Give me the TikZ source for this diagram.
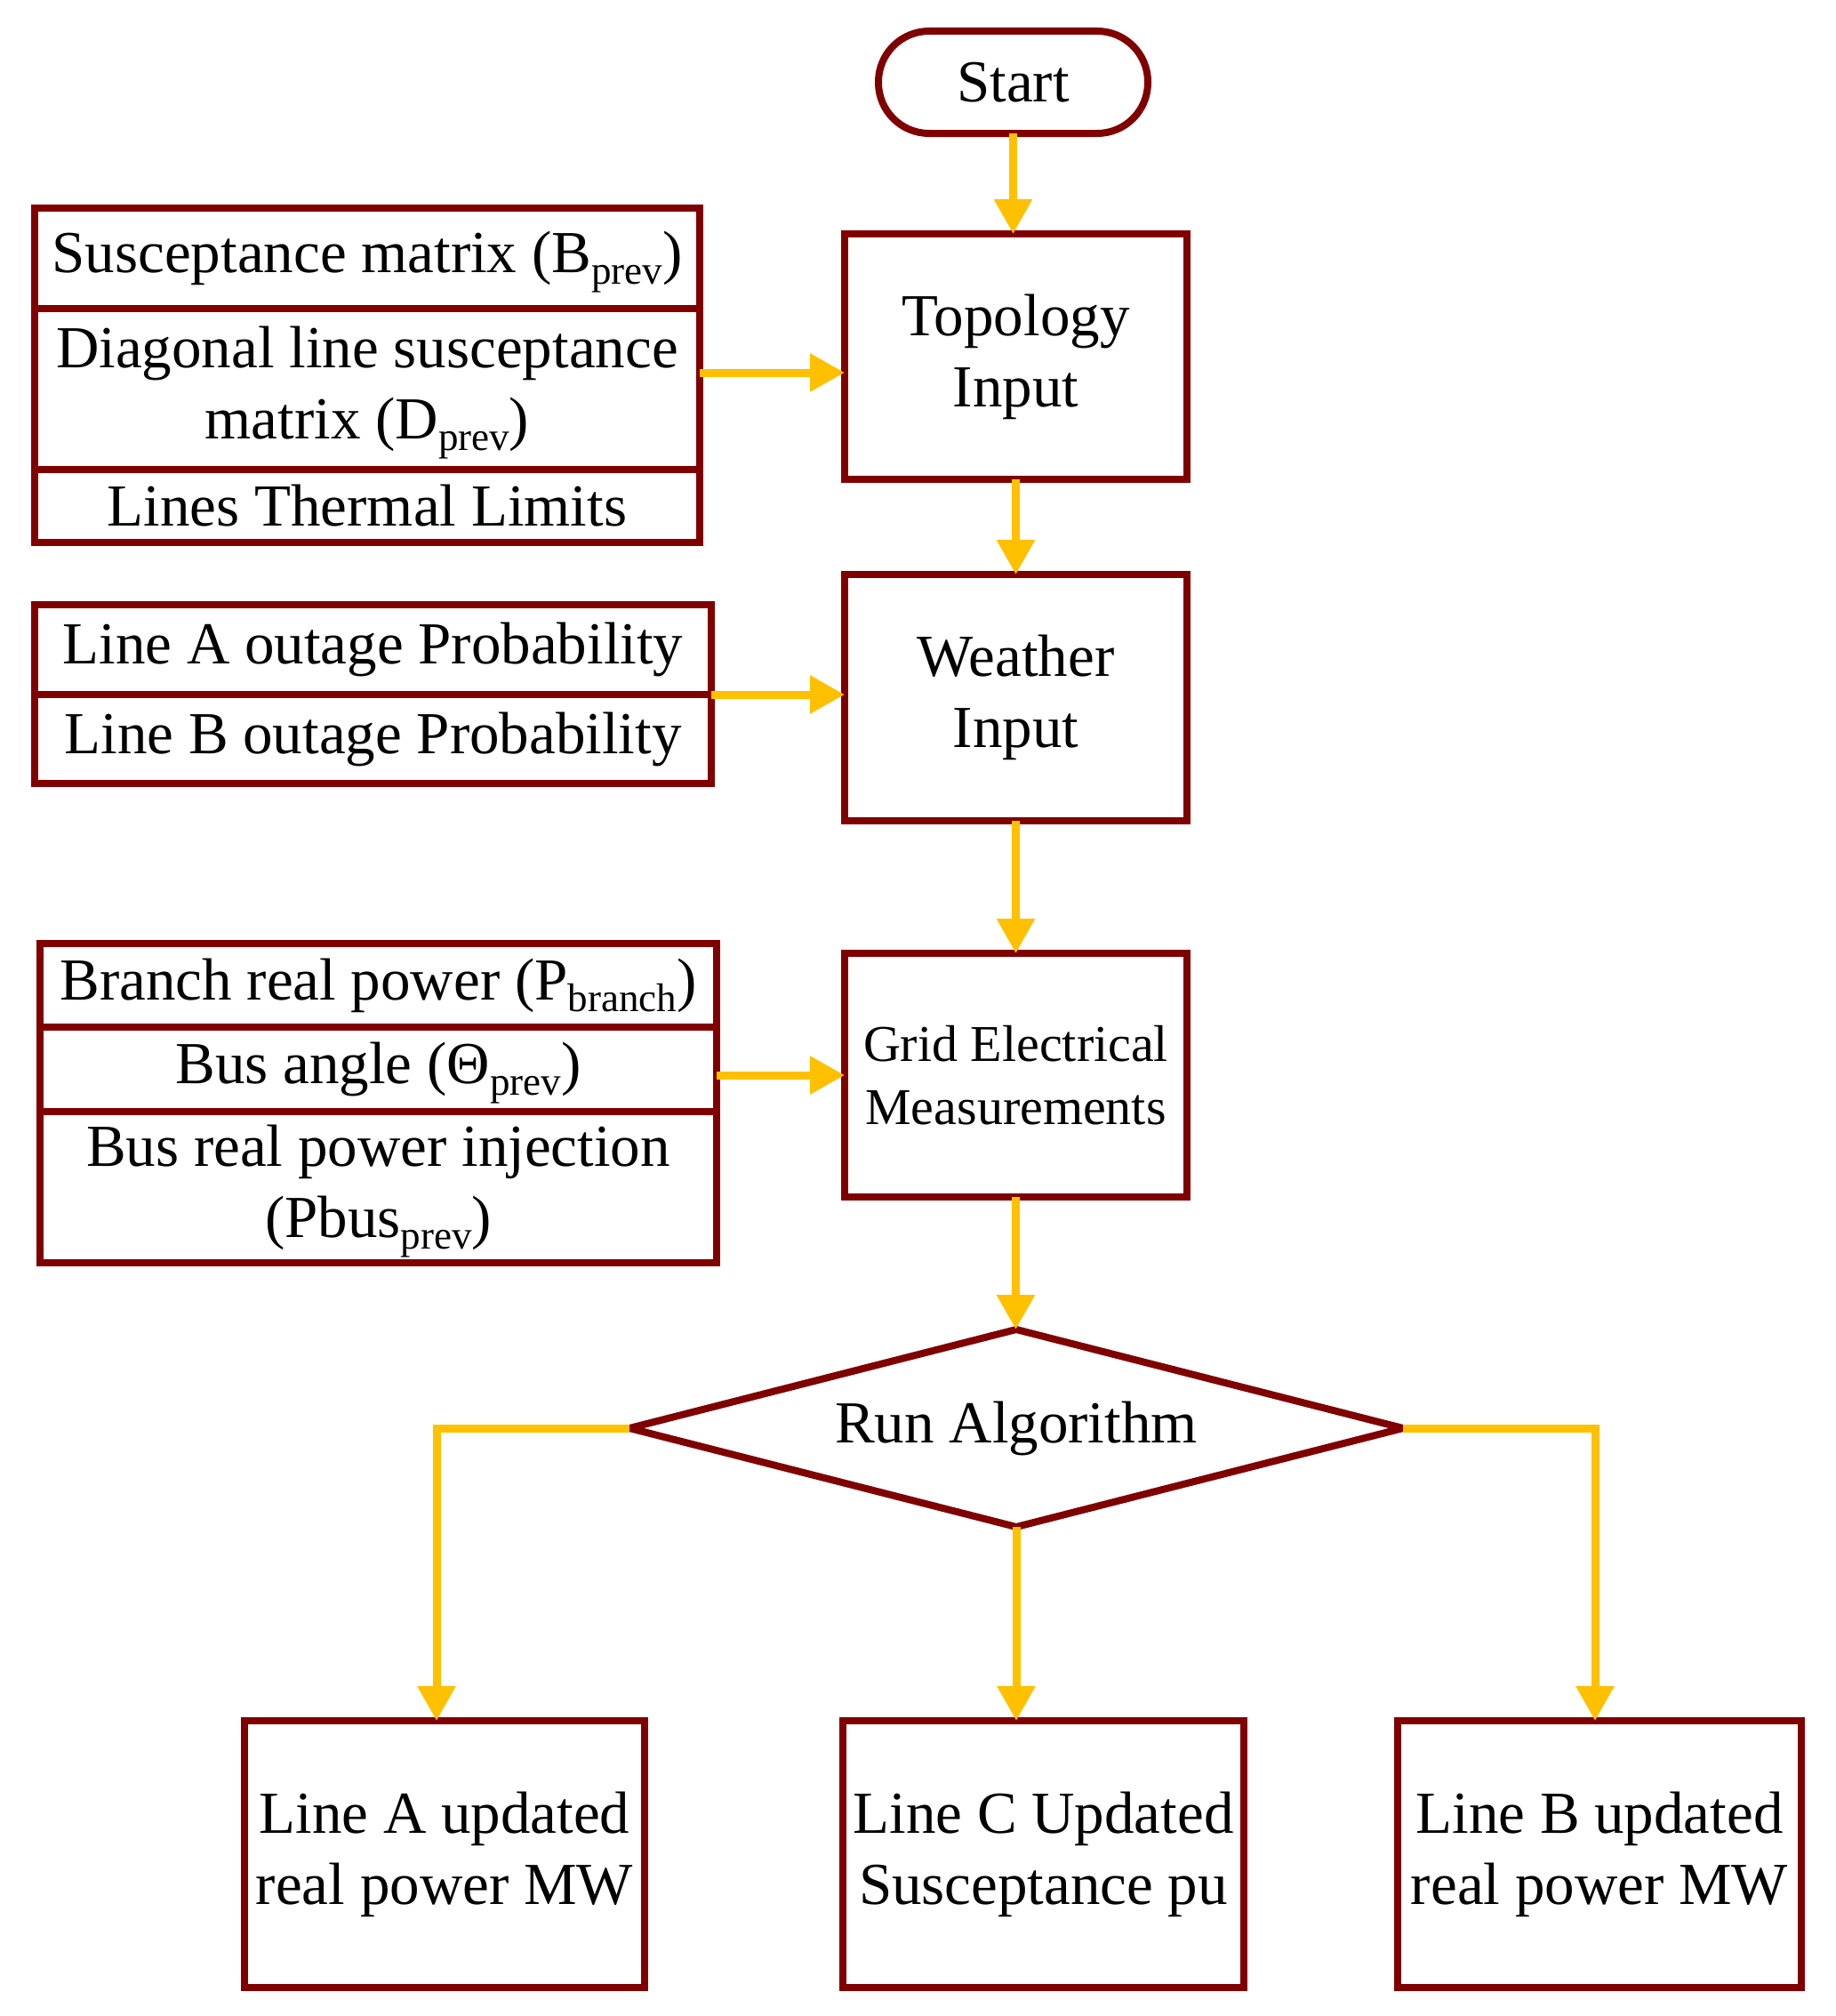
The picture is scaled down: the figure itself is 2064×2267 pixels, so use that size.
\documentclass[tikz,border=0pt]{standalone}
\usepackage{fontspec}
\setmainfont{Liberation Serif}
\usetikzlibrary{arrows.meta}
\definecolor{boxred}{RGB}{128,0,0}
\definecolor{arrgold}{RGB}{255,192,0}
\newcommand\lowsub[1]{\raisebox{-13pt}[0pt][0pt]{\fontsize{45}{45}\selectfont #1}}
\tikzset{
  box/.style={draw=boxred, line width=8pt, inner sep=0pt, outer sep=0pt, align=center,
    font=\fontsize{67}{80}\selectfont, text=black},
  decision/.style={inner sep=0pt, outer sep=0pt, align=center,
    font=\fontsize{67}{80}\selectfont, text=black},
  decisionline/.style={draw=boxred, line width=8pt, line join=miter},
  arr/.style={draw=arrgold, line width=9pt, -{Triangle[length=39pt,width=41pt]}}
}
\begin{document}
\begin{tikzpicture}[x=1pt,y=-1pt]
\useasboundingbox (0,0) rectangle (2064,2267);
% main column
\node[box, rounded corners=57pt, minimum width=303pt, minimum height=115pt] (start) at (1139.5,92.5) {Start};
\node[box, minimum width=385pt, minimum height=276pt] (topo) at (1142.5,401) {Topology\\Input};
\node[box, minimum width=385pt, minimum height=277pt] (weather) at (1142.5,784.5) {Weather\\Input};
\node[box, minimum width=385pt, minimum height=274pt, font=\fontsize{58}{71}\selectfont] (grid) at (1142.5,1209) {Grid Electrical\\Measurements};
\node[decision, minimum width=870pt, minimum height=222pt] (dia) at (1143,1606) {Run Algorithm};
\draw[decisionline] (dia.north) -- (dia.east) -- (dia.south) -- (dia.west) -- cycle;
% outputs
\node[box, minimum width=450pt, minimum height=300pt] (boxA) at (500,2085) {Line A updated\\real power MW};
\node[box, minimum width=451pt, minimum height=300pt] (boxC) at (1173.5,2085) {Line C Updated\\Susceptance pu};
\node[box, minimum width=454pt, minimum height=300pt] (boxB) at (1799,2085) {Line B updated\\real power MW};
% group 1
\node[box, minimum width=748pt, minimum height=113pt] (g1a) at (413,290.5) {Susceptance matrix (B\lowsub{prev})};
\node[box, minimum width=748pt, minimum height=181pt] (g1b) at (413,437.5) {Diagonal line susceptance\\matrix (D\lowsub{prev})};
\node[box, minimum width=748pt, minimum height=82pt] (g1c) at (413,569) {Lines Thermal Limits};
% group 2
\node[box, minimum width=761pt, minimum height=101pt] (g2a) at (419.5,730.5) {Line A outage Probability};
\node[box, minimum width=761pt, minimum height=100pt] (g2b) at (419.5,831) {Line B outage Probability};
% group 3
\node[box, minimum width=761pt, minimum height=94pt] (g3a) at (425.5,1108) {Branch real power (P\lowsub{branch})};
\node[box, minimum width=761pt, minimum height=95pt] (g3b) at (425.5,1202.5) {Bus angle (Θ\lowsub{prev})};
\node[box, minimum width=761pt, minimum height=170pt] (g3c) at (425.5,1335) {Bus real power injection\\(Pbus\lowsub{prev})};
% connectors
\draw[arr] (start.south) -- (start.south |- topo.north);
\draw[arr] (topo.south) -- (weather.north);
\draw[arr] (weather.south) -- (grid.north);
\draw[arr] (grid.south) -- (grid.south |- dia.north);
\draw[arr] (dia.south) -- (dia.south |- boxC.north);
\coordinate (la) at ([xshift=-9pt]boxA.north);
\coordinate (lb) at ([xshift=-5pt]boxB.north);
\draw[arr] (dia.west) -| (la);
\draw[arr] (dia.east) -| (lb);
\coordinate (a1) at ([yshift=18.5pt]g1b.east);
\draw[arr] (a1) -- (a1 -| topo.west);
\draw[arr] (g2a.south east) -- (g2a.south east -| weather.west);
\draw[arr] (grid.west -| g3b.east) -- (grid.west);
\end{tikzpicture}
\end{document}
